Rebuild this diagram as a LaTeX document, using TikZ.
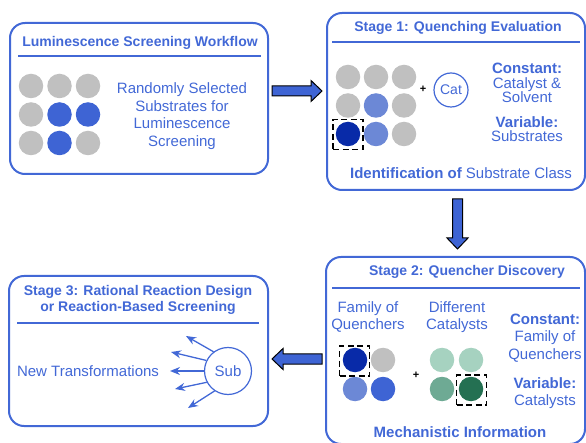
\documentclass[tikz,border=0pt]{standalone}
\usepackage{fontspec}
\setmainfont{Liberation Sans}
\usetikzlibrary{arrows.meta}
\definecolor{mainblue}{RGB}{66,104,214}
\definecolor{royal}{RGB}{62,100,212}
\definecolor{grayc}{RGB}{192,192,192}
\definecolor{midblue}{RGB}{108,136,214}
\definecolor{darkblue}{RGB}{8,42,168}
\definecolor{glight}{RGB}{166,210,192}
\definecolor{gmid}{RGB}{110,170,148}
\definecolor{gdark}{RGB}{36,112,82}
\tikzset{
  box/.style={draw=mainblue, line width=2pt, rounded corners=15pt, inner sep=0pt},
  sep/.style={draw=mainblue, line width=1.3pt},
  dot/.style={circle, minimum size=24.5pt, inner sep=0pt},
  txt/.style={text=mainblue, font=\fontsize{15}{17.7}\selectfont, align=center, inner sep=0pt},
  ttl/.style={text=mainblue, font=\fontsize{14}{16}\selectfont\bfseries, align=center, inner sep=0pt},
  selbox/.style={draw=black, line width=1.4pt, dash pattern=on 6pt off 3.5pt, minimum width=30pt, minimum height=30pt, inner sep=0pt},
  ring/.style={circle, draw=mainblue, line width=1.2pt, inner sep=0pt},
  plus/.style={font=\fontsize{11}{11}\selectfont\bfseries, inner sep=0pt},
  subarrow/.style={draw=mainblue, line width=1.3pt, -{Stealth[length=10pt,width=8pt]}},
  barrow/.pic={\draw[fill=royal, draw=black, line width=1pt, line join=miter]
     (0,-5) -- (39,-5) -- (39,-10.5) -- (50,0) -- (39,10.5) -- (39,5) -- (0,5) -- cycle;}
}
\begin{document}
\begin{tikzpicture}[x=1pt,y=-1pt]
\useasboundingbox (0,0) rectangle (586,443);
% ---------- Box 1
\node[box, minimum width=258pt, minimum height=151pt] (b1) at (139,98.5) {};
\node[ttl] (t1) at (140,43) {Luminescence Screening Workflow};
\draw[sep] (18,56) -- (261,56);
\foreach \c/\x/\y/\n in {grayc/31/86/a, grayc/59.5/86/b, grayc/88/86/c,
                          grayc/31/114.5/d, royal/59.5/114.5/e, royal/88/114.5/f,
                          grayc/31/143/g, royal/59.5/143/h, grayc/88/143/i}
  \node[dot, fill=\c] (g1\n) at (\x,\y) {};
\node[txt] (r1) at (182,116) {Randomly Selected\\Substrates for\\Luminescence\\Screening};
% ---------- Box 2
\node[box, minimum width=258pt, minimum height=177pt] (b2) at (456,101.5) {};
\node[ttl] (t2) at (458,28) {Stage 1: Quenching Evaluation};
\draw[sep] (332,42) -- (580,42);
\foreach \c/\x/\y/\n in {grayc/348/77/a, grayc/376/77/b, grayc/404/77/c,
                          grayc/348/105.5/d, midblue/376/105.5/e, grayc/404/105.5/f,
                          darkblue/348/134/g, midblue/376/134/h, grayc/404/134/i}
  \node[dot, fill=\c] (g2\n) at (\x,\y) {};
\node[selbox] (s2) at (348,134.5) {};
\node[plus] (p2) at (423,89) {+};
\node[ring, minimum size=34pt, text=mainblue, font=\fontsize{14}{14}\selectfont] (cat) at (451,90) {Cat};
\node[txt, font=\fontsize{15}{14.5}\selectfont] (c2) at (527,83) {\textbf{Constant:}\\Catalyst \&\\Solvent};
\node[txt, font=\fontsize{15}{14.5}\selectfont] (v2) at (527,129) {\textbf{Variable:}\\Substrates};
\node[txt] (id2) at (461,173) {\textbf{Identification of} Substrate Class};
% ---------- Box 3 (Stage 2)
\node[box, minimum width=259pt, minimum height=187pt] (b3) at (455.5,350.5) {};
\node[ttl] (t3) at (467,272) {Stage 2: Quencher Discovery};
\draw[sep] (332,288) -- (580,288);
\node[txt] (fq) at (368,317) {Family of\\Quenchers};
\node[txt] (dc) at (457,317) {Different\\Catalysts};
\foreach \c/\x/\y/\n in {darkblue/355/360/a, grayc/383/360/b, midblue/355/389/c, royal/383/389/d}
  \node[dot, fill=\c] (g3\n) at (\x,\y) {};
\node[selbox] (s3a) at (354.5,361) {};
\node[plus] (p3) at (416,375) {+};
\foreach \c/\x/\y/\n in {glight/442/360/a, glight/471/360/b, gmid/442/389/c, gdark/471/389/d}
  \node[dot, fill=\c] (g4\n) at (\x,\y) {};
\node[selbox] (s3b) at (471.5,390) {};
\node[txt] (c3) at (545,338) {\textbf{Constant:}\\Family of\\Quenchers};
\node[txt] (v3) at (545,393) {\textbf{Variable:}\\Catalysts};
\node[txt] (mi) at (460,432) {\textbf{Mechanistic Information}};
% ---------- Box 4 (Stage 3)
\node[box, minimum width=259pt, minimum height=150pt] (b4) at (138.5,351) {};
\node[ttl] (t4) at (138,300) {Stage 3: Rational Reaction Design\\or Reaction-Based Screening};
\draw[sep] (17,323) -- (259,323);
\node[txt] (nt) at (88,371) {New Transformations};
\node[ring, minimum size=47pt, text=mainblue, font=\fontsize{15}{15}\selectfont] (sub) at (228,371) {Sub};
\coordinate (e1) at (186,336);
\coordinate (e2) at (171,352);
\coordinate (e3) at (170,371);
\coordinate (e4) at (175,389);
\coordinate (e5) at (188,408);
\draw[subarrow] (sub.127) -- (e1);
\draw[subarrow] (sub.154) -- (e2);
\draw[subarrow] (sub.180) -- (e3);
\draw[subarrow] (sub.208) -- (e4);
\draw[subarrow] (sub.236) -- (e5);
% ---------- block arrows
\pic at (272,91) {barrow};
\pic[rotate=-90] at (457.5,199) {barrow};
\pic[rotate=180] at (322,359) {barrow};
\end{tikzpicture}
\end{document}
